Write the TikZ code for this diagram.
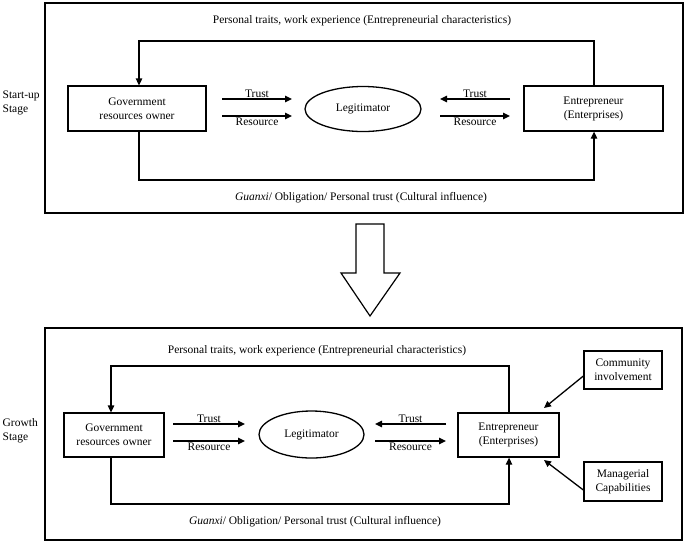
\documentclass[tikz,border=0pt]{standalone}
\usepackage{fontspec}
\setmainfont{Liberation Serif}
\usetikzlibrary{arrows.meta,shapes.geometric}
\begin{document}
\begin{tikzpicture}[x=1pt,y=-1pt,line width=1.3pt,
  box/.style={draw,align=center,font=\fontsize{11.5}{14}\selectfont,inner sep=0pt},
  lbl/.style={font=\fontsize{11.5}{14}\selectfont,inner sep=1pt},
  arr/.style={-{Triangle[length=7pt,width=6.5pt]}}]
\fill[white] (0,0) rectangle (685,542);
% top panel
\draw (45,3) rectangle (683,213);
\node[lbl,align=left,anchor=west] (s1) at (1,103) {Start-up\\Stage};
\node[lbl] (t1) at (362,21) {Personal traits, work experience (Entrepreneurial characteristics)};
\node[box,minimum width=138pt,minimum height=45pt] (g1) at (137,108.5) {Government\\resources owner};
\node[box,ellipse,minimum width=116pt,minimum height=45pt] (l1) at (363,109) {Legitimator};
\node[box,minimum width=139pt,minimum height=45pt] (e1) at (593.5,108.5) {Entrepreneur\\(Enterprises)};
\coordinate (a1) at (222,99); \coordinate (b1) at (292,99);
\coordinate (a2) at (222,116); \coordinate (b2) at (292,116);
\coordinate (c1) at (510,99); \coordinate (d1) at (440,99);
\coordinate (c2) at (440,116); \coordinate (d2) at (510,116);
\draw[arr] (a1) -- node[lbl,above] {Trust} (b1);
\draw[arr] (a2) -- node[lbl,below] {Resource} (b2);
\draw[arr] (c1) -- node[lbl,above] {Trust} (d1);
\draw[arr] (c2) -- node[lbl,below] {Resource} (d2);
\draw[arr] (e1.north -| 594,0) |- (139,41) -- (g1.north -| 139,0);
\draw[arr] (g1.south -| 139,0) |- (594,180) -- (e1.south -| 594,0);
\node[lbl] (u1) at (361,198) {\textit{Guanxi}/ Obligation/ Personal trust (Cultural influence)};
% big arrow
\draw[line width=1.2pt] (356,224) -- (384,224) -- (384,273) -- (400,273) -- (370,316) -- (341,273) -- (356,273) -- cycle;
% bottom panel
\draw (45,328) rectangle (682,540);
\node[lbl,align=left,anchor=west] (s2) at (1,431) {Growth\\Stage};
\node[lbl] (t2) at (317,351) {Personal traits, work experience (Entrepreneurial characteristics)};
\node[box,minimum width=100pt,minimum height=44pt] (g2) at (114,435) {Government\\resources owner};
\node[box,ellipse,minimum width=105pt,minimum height=47pt] (l2) at (311.5,434.5) {Legitimator};
\node[box,minimum width=101pt,minimum height=44pt] (e2) at (508.5,435) {Entrepreneur\\(Enterprises)};
\node[box,minimum width=78pt,minimum height=38pt] (c) at (623,370) {Community\\involvement};
\node[box,minimum width=78pt,minimum height=39pt] (m) at (623,481.5) {Managerial\\Capabilities};
\coordinate (p1) at (173,424); \coordinate (q1) at (245,424);
\coordinate (p2) at (173,441); \coordinate (q2) at (245,441);
\coordinate (r1) at (446,424); \coordinate (s1b) at (375,424);
\coordinate (r2) at (375,441); \coordinate (s2b) at (446,441);
\draw[arr] (p1) -- node[lbl,above] {Trust} (q1);
\draw[arr] (p2) -- node[lbl,below] {Resource} (q2);
\draw[arr] (r1) -- node[lbl,above] {Trust} (s1b);
\draw[arr] (r2) -- node[lbl,below] {Resource} (s2b);
\draw[arr] (e2.north -| 509,0) |- (111,366) -- (g2.north -| 111,0);
\draw[arr] (g2.south -| 111,0) |- (509,504) -- (e2.south -| 509,0);
\node[lbl] (u2) at (315,522) {\textit{Guanxi}/ Obligation/ Personal trust (Cultural influence)};
\draw[arr] (c.west |- 0,376) -- (544,408);
\draw[arr] (m.west |- 0,490) -- (544,460);
\end{tikzpicture}
\end{document}
